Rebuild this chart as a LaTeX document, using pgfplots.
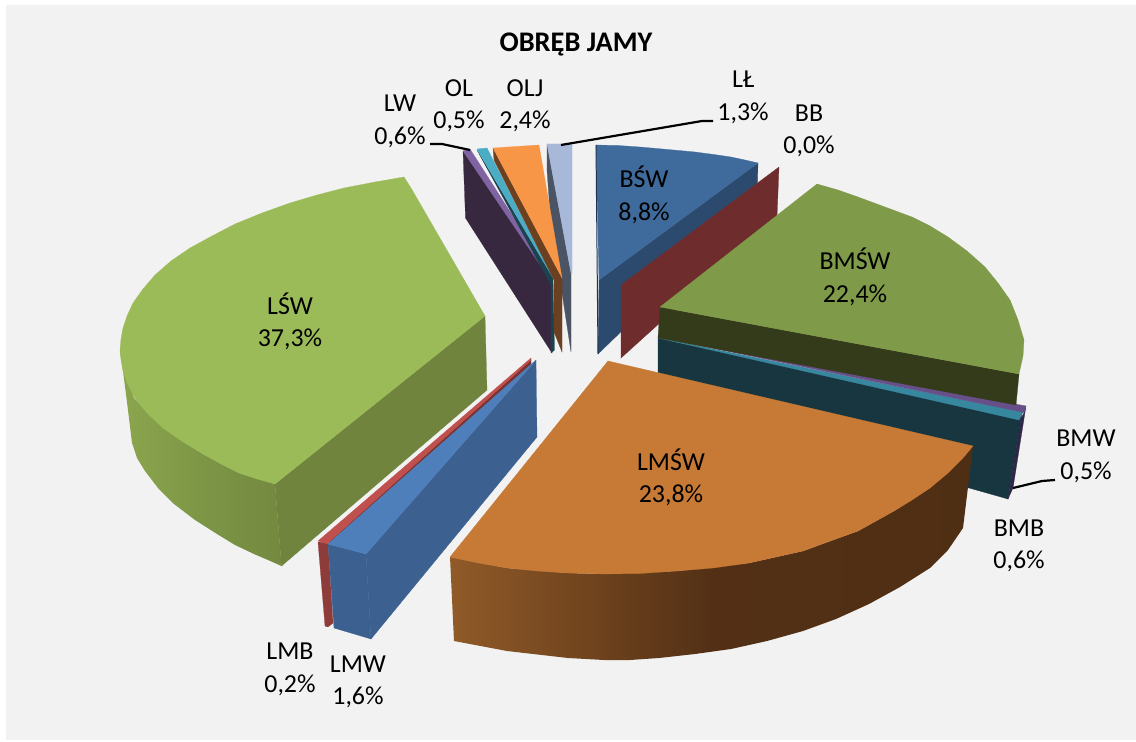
\documentclass[border=0pt]{standalone}
\usepackage{pgfplots}
\pgfplotsset{compat=1.18}
\usepackage{fontspec}
\setmainfont{Carlito}
\definecolor{bg}{HTML}{F2F2F2}
\definecolor{lltop}{HTML}{A7B8D8}
\definecolor{llside}{HTML}{4A5464}
\definecolor{oljtop}{HTML}{F79646}
\definecolor{oljside}{HTML}{6B4020}
\definecolor{oltop}{HTML}{4BACC6}
\definecolor{olside}{HTML}{1C4250}
\definecolor{lwtop}{HTML}{8064A2}
\definecolor{lwside}{HTML}{37283F}
\definecolor{bswtop}{HTML}{3E6A9C}
\definecolor{bswside}{HTML}{2C4A6E}
\definecolor{bswedge}{HTML}{1D3350}
\definecolor{bb}{HTML}{6F2C2C}
\definecolor{bmwtop}{HTML}{67508A}
\definecolor{bmwside}{HTML}{2E2747}
\definecolor{bmbtop}{HTML}{37879F}
\definecolor{bmbside}{HTML}{17363F}
\definecolor{bmswtop}{HTML}{7F9A48}
\definecolor{bmswside}{HTML}{343B1B}
\definecolor{lmswtop}{HTML}{C77936}
\definecolor{lmswA}{HTML}{905A28}
\definecolor{lmswB}{HTML}{533015}
\definecolor{lmswC}{HTML}{4F2F14}
\definecolor{lswtop}{HTML}{9BBB59}
\definecolor{lswA}{HTML}{8CA64E}
\definecolor{lswB}{HTML}{7C9646}
\definecolor{lswC}{HTML}{74893F}
\definecolor{lswin}{HTML}{70843E}
\definecolor{lmbtop}{HTML}{C0504D}
\definecolor{lmbside}{HTML}{8E3C3A}
\definecolor{lmbin}{HTML}{7A3331}
\definecolor{lmwtop}{HTML}{4F7FBA}
\definecolor{lmwside}{HTML}{3C6090}
\newcommand\poly[2]{\addplot[fill=#1,draw=#1,line width=0.25pt,forget plot] coordinates {#2} -- cycle;}
\newcommand\lab[3]{\node[align=center,inner sep=0pt,font=\fontsize{26}{32.5}\selectfont] at (axis cs:#1,#2) {#3};}
\begin{document}
\begin{tikzpicture}
\begin{axis}[scale only axis,width=1136bp,height=742bp,xmin=0,xmax=1136,ymin=0,ymax=742,y dir=reverse,hide axis,clip=true]
\addplot[fill=white,draw=none,forget plot] coordinates {(0,0)(1136,0)(1136,742)(0,742)} -- cycle;
\addplot[fill=bg,draw=none,forget plot] coordinates {(6,5)(1136,5)(1136,740)(6,740)} -- cycle;
% LL
\poly{llside}{(547,144)(571,273)(571,352)(562,293)(552,240)(547,170)}
\poly{lltop}{(547,144)(572,144)(572,273)(571,273)}
% LW
\poly{lwside}{(463,151)(465.5,218)(552,353)(552,280)}
\poly{lwtop}{(463,151)(470,149)(553,279)(551,281)}
% OL
\poly{olside}{(477,150)(553,278)(554.5,350)(551,353)(551,285)}
\poly{oltop}{(477,149)(487,148)(553,278)}
% OLJ
\poly{oljside}{(493,148)(562,278)(562,352)(554,332)(554,280)(494,160)}
\poly{oljtop}{(493,148)(539,145)(562,278)}
% BSW
\poly{bswside}{(758,163)(757,200)(598,354)(599,280)}
\poly{bswtop}{(596,145)(618,145.5)(640,147)(668,149.5)(695,152)(714,154.5)(731,157)(745,160)(758,163)(599,280)}
\addplot[draw=bswedge,line width=1pt,forget plot] coordinates {(596,145)(598,354)};
% BB
\poly{bb}{(779,167)(621,285)(621,358)(777,217)}
% BMB + BMW
\poly{bmbside}{(658,338)(1022,413)(1008,499)(658,400)}
\poly{bmwside}{(1026,406)(1013,488)(1008,499)(1021,418)(1024,413)}
\poly{bmbtop}{(658,338)(1023,412)(1019,420)}
\poly{bmwtop}{(658,337)(1026,406)(1024,412.5)}
% BMSW
\poly{bmswside}{(660,307)(1019,374)(1016,405)(658,338)}
\poly{bmswtop}{(660,307)(817,184)(838,190)(858,197)(885,207)(912,217)(930,226)(948,237)(967,251)(985,267)(998,283)(1010,300)(1018,320)(1024,340)(1023,356)(1019,374)}
% LMSW
\addplot[left color=lmswA,right color=lmswC,middle color=lmswB,draw=none,forget plot] coordinates {(450,557)(507,568)(568,573)(604,574)(677,571)(749,563)(803,551)(858,531)(894,511)(930,488)(973,446)(963,528)(948,550)(930,568)(900,587)(869,604)(836,619)(803,631)(767,641)(731,649)(695,654)(659,658)(630,660)(604,660)(568,658)(507,651)(454,641)} -- cycle;
\poly{lmswtop}{(608,361)(450,557)(478,563)(507,568)(537,571)(568,573)(604,574)(640,573.5)(677,571)(713,568)(749,563)(776,557)(803,551)(830,541)(858,531)(876,521)(894,511)(912,500)(930,488)(948,473)(963,458)(973,446)}
% LSW
\addplot[left color=lswA,right color=lswC,middle color=lswB,draw=none,forget plot] coordinates {(120,350)(123,371)(128,410)(132,443)(137,458)(145,471)(158,488)(174,504)(195,520)(217,534)(235,545)(254,554)(268,560)(281.5,566)(275,484)(239,473)(203,454)(163,428)(134,398)} -- cycle;
\poly{lswin}{(275,484)(485,316)(487,390)(281.5,566)}
\poly{lswtop}{(404,177)(375,182)(344,188)(317,195)(290,203)(262,213)(235,224)(212,236)(190,248)(171,261)(155,275)(143,289)(133,303)(127,316)(123,328)(121,339)(120,350)(121,360)(123,371)(128,385)(136,400)(148,414)(163,428)(183,442)(203,454)(221,464)(239,473)(257,479)(275,484)(485,316)(411,188)}
% LMB
\poly{lmbside}{(318,542)(325,626)(328,627)(333,623)(328,543)}
\poly{lmbin}{(330,541)(531,360)(531,365)(328,545)}
\poly{lmbtop}{(318,541)(531,358)(531,360)(329,542)(328,544)}
% LMW
\poly{lmwside}{(536,360)(366,554)(371,639)(537,437)}
\poly{lmwside}{(328,544)(366,554)(371,639)(334,628)}
\poly{lmwtop}{(536,360)(328,544)(366,554)}
% leaders
\addplot[black,line width=2.2bp,forget plot] coordinates {(430,144)(442,144)(470,150)};
\addplot[black,line width=2.2bp,forget plot] coordinates {(561,145)(702,121)(713,121)};
\addplot[black,line width=2.2bp,forget plot] coordinates {(1013,488)(1042,481)(1055,480)};
% labels
\node[inner sep=0pt,font=\fontsize{28.5}{32}\selectfont\bfseries] at (axis cs:576,44) {OBRĘB JAMY};
\lab{400}{121.5}{LW\\0,6\%}
\lab{459}{105.5}{OL\\0,5\%}
\lab{525}{105.5}{OLJ\\2,4\%}
\lab{743}{97.5}{LŁ\\1,3\%}
\lab{809}{131}{BB\\0,0\%}
\lab{644}{195}{BŚW\\8,8\%}
\lab{855}{277}{BMŚW\\22,4\%}
\lab{1086}{456.5}{BMW\\0,5\%}
\lab{1019}{546}{BMB\\0,6\%}
\lab{671}{477.5}{LMŚW\\23,8\%}
\lab{290}{321.5}{LŚW\\37,3\%}
\lab{290}{669.5}{LMB\\0,2\%}
\lab{358}{682}{LMW\\1,6\%}
\end{axis}
\end{tikzpicture}
\end{document}
